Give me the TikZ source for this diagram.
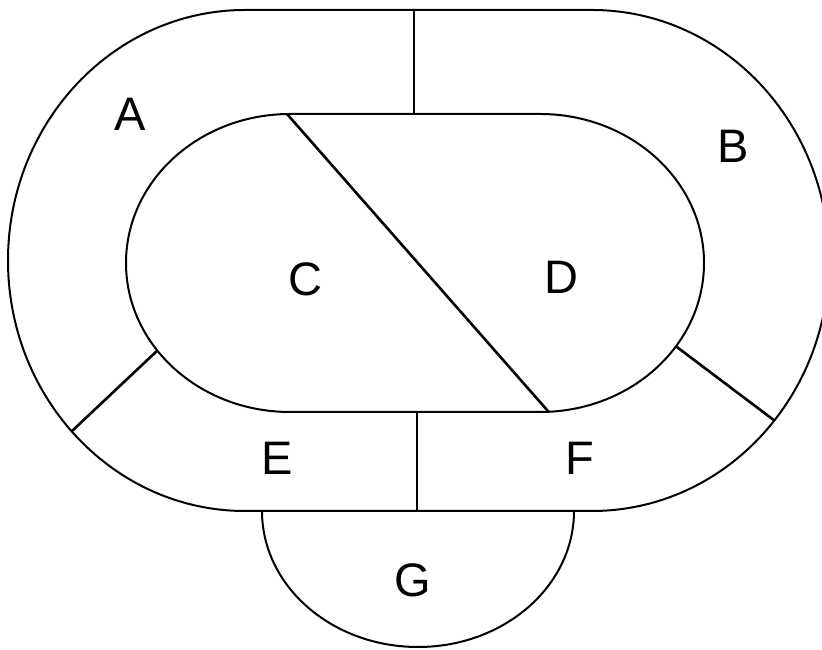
\documentclass[tikz,border=0pt]{standalone}
\usepackage{fontspec}
\setmainfont{Liberation Sans}
\usepackage{tikz}
\usetikzlibrary{positioning}

\begin{document}
\begin{tikzpicture}[
  x=1pt, y=1pt,
  region/.style={draw, line width=2pt},
  divider/.style={draw, line width=2.6pt},
  lbl/.style={font=\fontsize{47}{50}\selectfont, inner sep=0pt}
]
  \clip (0,0) rectangle (822,650);
  % ring centres
  \coordinate (ol) at (245,389.5);
  \coordinate (or) at (592,389.5);
  \coordinate (il) at (290,387);
  \coordinate (ir) at (540,387);
  % outer track and inner field
  \draw[region] (245,640) -- (592,640)
    arc[start angle=90, end angle=-90, x radius=237, y radius=250.5]
    -- (245,139)
    arc[start angle=270, end angle=90, x radius=237, y radius=250.5] -- cycle;
  \draw[region] (290,536) -- (540,536)
    arc[start angle=90, end angle=-90, x radius=164, y radius=149]
    -- (290,238)
    arc[start angle=270, end angle=90, x radius=164, y radius=149] -- cycle;
  % half oval below
  \draw[region] (262,139) arc[start angle=180, end angle=360, x radius=156, y radius=136];
  % divider end points
  \coordinate (topo) at (414,640);
  \coordinate (topi) at (414,536);
  \coordinate (boti) at (417,238);
  \coordinate (boto) at (417,139);
  \coordinate (diaga) at (287,536);
  \coordinate (diagb) at ([shift={(ir)}]-87:164 and 149);
  \coordinate (lli) at ([shift={(il)}]216:164 and 149);
  \coordinate (llo) at ([shift={(ol)}]223:237 and 250.5);
  \coordinate (lri) at ([shift={(ir)}]-34:164 and 149);
  \coordinate (lro) at ([shift={(or)}]-39.7:237 and 250.5);
  \draw[divider] (topo) -- (topi);
  \draw[divider] (boti) -- (boto);
  \draw[divider] (diaga) -- (diagb);
  \draw[divider] (lli) -- (llo);
  \draw[divider] (lri) -- (lro);
  % labels
  \node[lbl] (a) at (130,536) {A};
  \node[lbl] (b) at (733,504) {B};
  \node[lbl] (c) at (305,371) {C};
  \node[lbl] (d) at (561,373) {D};
  \node[lbl] (e) at (277,192) {E};
  \node[lbl] (f) at (580,192) {F};
  \node[lbl] (g) at (413,70) {G};
\end{tikzpicture}
\end{document}
